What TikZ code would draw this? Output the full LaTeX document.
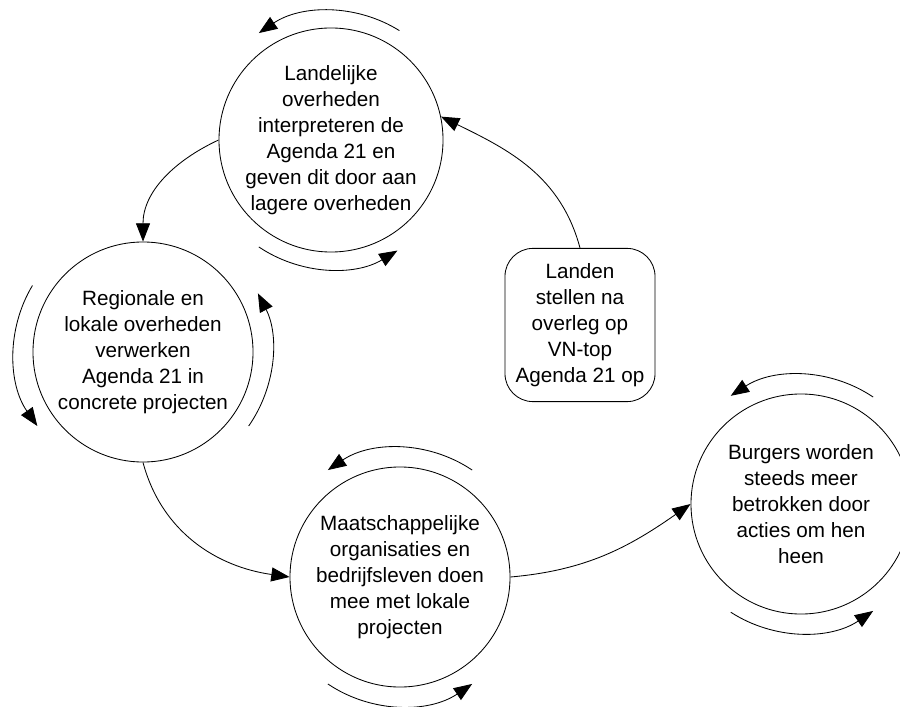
\documentclass[tikz,border=0pt]{standalone}
\usepackage{fontspec}
\setmainfont{Liberation Sans}
\usepackage{tikz}
\usetikzlibrary{arrows.meta,positioning,shapes.geometric}
\tikzset{
  phase/.style={circle, draw, line width=0.6pt, inner sep=0pt, minimum size=5.5cm},
  phasetext/.style={align=center, font=\fontsize{14.7}{18.5}\selectfont},
  startbox/.style={rectangle, draw, line width=0.6pt, rounded corners=0.7cm, minimum width=3.75cm, minimum height=3.83cm, align=center, font=\fontsize{14.7}{18.5}\selectfont},
  arrow/.style={-{Triangle[length=13pt, width=10pt]}, line width=0.6pt},
}
\begin{document}
\begin{tikzpicture}[x=0.025cm, y=0.025cm]
  \useasboundingbox (0,0) rectangle (900,706);

  % Circles of the cycle
  \node[phase, minimum size=5.6cm, label={[phasetext]center:Landelijke\\overheden\\interpreteren de\\Agenda 21 en\\geven dit door aan\\lagere overheden}] (landelijk) at (331,566) {};
  \node[phase, label={[phasetext]center:Regionale en\\lokale overheden\\verwerken\\Agenda 21 in\\concrete projecten}] (regionaal) at (143,354) {};
  \node[phase, label={[phasetext]center:Maatschappelijke\\organisaties en\\bedrijfsleven doen\\mee met lokale\\projecten}] (organisaties) at (400,129) {};
  \node[phase, label={[phasetext]center:Burgers worden\\steeds meer\\betrokken door\\acties om hen\\heen}] (burgers) at (801,202) {};

  % Starting point
  \node[startbox] (landen) at (580,381) {Landen\\stellen na\\overleg op\\VN-top\\Agenda 21 op};

  % Connections
  \draw[arrow] (landen.north) to[out=105, in=-26] (landelijk.12);
  \draw[arrow] (landelijk.west) to[out=205, in=90] (regionaal.north);
  \draw[arrow] (regionaal.south) to[out=-75, in=172] (organisaties.west);
  \draw[arrow] (organisaties.east) to[out=5, in=215] (burgers.west);

  % Turning arcs round each circle
  \foreach \n/\a/\b in {landelijk/58/124, landelijk/236/301, regionaal/149/215, regionaal/-35/27,
                        organisaties/56/124, organisaties/236/304, burgers/56/123, burgers/237/304}
    \draw[arrow] ([shift={(\a:129)}]\n.center) arc[start angle=\a, end angle=\b, radius=129];

\end{tikzpicture}
\end{document}
